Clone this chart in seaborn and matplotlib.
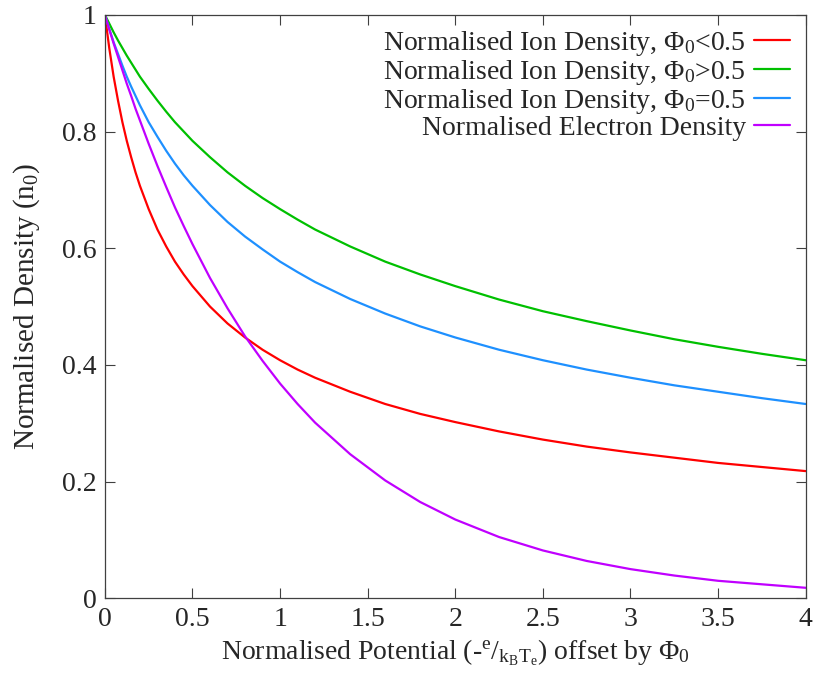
import matplotlib
matplotlib.use("Agg")
import matplotlib.pyplot as plt
import seaborn as sns
import pandas as pd

x = [0, 0.025, 0.05, 0.075, 0.1, 0.125, 0.15, 0.175, 0.2, 0.25, 0.3, 0.35, 0.4, 0.45, 0.5, 0.6, 0.7, 0.8, 0.9,
     1.0, 1.1, 1.2, 1.4, 1.6, 1.8, 2.0, 2.25, 2.5, 2.75, 3.0, 3.25, 3.5, 3.75, 4.0]
ion_lt = [1.000, 0.943, 0.894, 0.853, 0.816, 0.784, 0.756, 0.730, 0.707, 0.667, 0.632, 0.603, 0.577, 0.555, 0.535,
          0.500, 0.471, 0.447, 0.426, 0.408, 0.392, 0.378, 0.354, 0.333, 0.316, 0.302, 0.286, 0.272, 0.260,
          0.250, 0.241, 0.232, 0.225, 0.218]
ion_gt = [1.000, 0.985, 0.970, 0.956, 0.943, 0.930, 0.918, 0.906, 0.894, 0.873, 0.853, 0.834, 0.816, 0.800, 0.784,
          0.756, 0.730, 0.707, 0.686, 0.667, 0.649, 0.632, 0.603, 0.577, 0.555, 0.535, 0.512, 0.492, 0.475,
          0.459, 0.444, 0.431, 0.419, 0.408]
ion_eq = [1.000, 0.976, 0.953, 0.933, 0.913, 0.894, 0.877, 0.861, 0.845, 0.816, 0.791, 0.767, 0.745, 0.725, 0.707,
          0.674, 0.645, 0.620, 0.598, 0.577, 0.559, 0.542, 0.513, 0.488, 0.466, 0.447, 0.426, 0.408, 0.392,
          0.378, 0.365, 0.354, 0.343, 0.333]
electron = [1.000, 0.975, 0.951, 0.928, 0.905, 0.882, 0.861, 0.839, 0.819, 0.779, 0.741, 0.705, 0.670, 0.638, 0.607,
            0.549, 0.497, 0.449, 0.407, 0.368, 0.333, 0.301, 0.247, 0.202, 0.165, 0.135, 0.105, 0.082, 0.064,
            0.050, 0.039, 0.030, 0.024, 0.018]

labels = [r"Normalised Ion Density, Φ$_{0}$<0.5",
          r"Normalised Ion Density, Φ$_{0}$>0.5",
          r"Normalised Ion Density, Φ$_{0}$=0.5",
          "Normalised Electron Density"]
colors = ["#ff0000", "#00c000", "#1e90ff", "#c000ff"]
series = [ion_lt, ion_gt, ion_eq, electron]
xticks = [0, 0.5, 1, 1.5, 2, 2.5, 3, 3.5, 4]
xticklabels = ["0", "0.5", "1", "1.5", "2", "2.5", "3", "3.5", "4"]
yticks = [0, 0.2, 0.4, 0.6, 0.8, 1]
yticklabels = ["0", "0.2", "0.4", "0.6", "0.8", "1"]

sns.set_style("ticks")
plt.rcParams["font.family"] = ["Liberation Serif", "DejaVu Serif"]
plt.rcParams["mathtext.default"] = "regular"
plt.rcParams["mathtext.fontset"] = "custom"
plt.rcParams["mathtext.rm"] = "Liberation Serif"
plt.rcParams["mathtext.it"] = "Liberation Serif"

FS = 20

fig = plt.figure(figsize=(8.13, 6.73), dpi=100)
ax = fig.add_axes([0.129, 0.111, 0.862, 0.867])

for vals, lab, col in zip(series, labels, colors):
    df = pd.DataFrame({"x": x, "y": vals})
    sns.lineplot(data=df, x="x", y="y", ax=ax, color=col, linewidth=1.6, label=lab)

ax.set_xlim(0, 4)
ax.set_ylim(0, 1)
ax.set_xticks(xticks)
ax.set_xticklabels(xticklabels)
ax.set_yticks(yticks)
ax.set_yticklabels(yticklabels)
ax.tick_params(direction="in", top=True, right=True, length=7, width=0.8,
               labelsize=FS, color="#404040", pad=6)
for s in ax.spines.values():
    s.set_visible(True)
    s.set_linewidth(0.9)
    s.set_color("#404040")

ax.set_xlabel(r"Normalised Potential (-$^{e}$/$_{k_{B}T_{e}}$) offset by Φ$_{0}$", fontsize=FS, labelpad=4)
ax.set_ylabel(r"Normalised Density (n$_{0}$)", fontsize=21, labelpad=14)

leg = ax.legend(loc="upper right", bbox_to_anchor=(0.998, 1.0), frameon=False, markerfirst=False,
                fontsize=FS, handlelength=1.3, handletextpad=0.3, labelspacing=0.0, borderaxespad=0.1)
for col in leg._legend_handle_box.get_children():
    col.align = "right"

fig.savefig("out.png", dpi=100)
